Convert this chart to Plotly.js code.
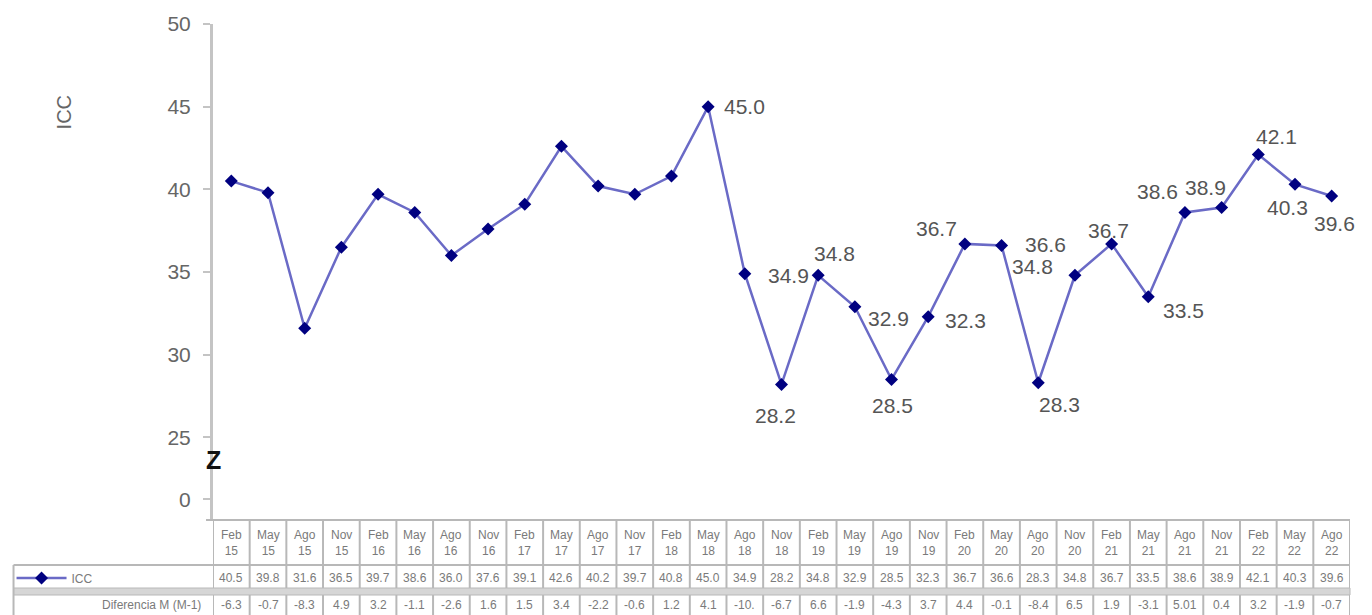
<!DOCTYPE html>
<html><head><meta charset="utf-8">
<script src="https://cdn.plot.ly/plotly-3.0.1.min.js"></script>
<style>html,body{margin:0;padding:0;background:#fff;}#chart{width:1372px;height:615px;}</style>
</head><body><div id="chart"></div>
<script>
// ---- data ----
const months = ['Feb','May','Ago','Nov','Feb','May','Ago','Nov','Feb','May','Ago','Nov','Feb','May','Ago','Nov',
                'Feb','May','Ago','Nov','Feb','May','Ago','Nov','Feb','May','Ago','Nov','Feb','May','Ago'];
const years  = ['15','15','15','15','16','16','16','16','17','17','17','17','18','18','18','18',
                '19','19','19','19','20','20','20','20','21','21','21','21','22','22','22'];
const iccValues = [40.5,39.8,31.6,36.5,39.7,38.6,36.0,37.6,39.1,42.6,40.2,39.7,40.8,45.0,34.9,28.2,
                   34.8,32.9,28.5,32.3,36.7,36.6,28.3,34.8,36.7,33.5,38.6,38.9,42.1,40.3,39.6];
const diffLabels = ['-6.3','-0.7','-8.3','4.9','3.2','-1.1','-2.6','1.6','1.5','3.4','-2.2','-0.6','1.2','4.1','-10.','-6.7',
                    '6.6','-1.9','-4.3','3.7','4.4','-0.1','-8.4','6.5','1.9','-3.1','5.01','0.4','3.2','-1.9','-0.7'];
const yTickVals = [21.25,25,30,35,40,45,50];
const yTickText = ['0','25','30','35','40','45','50'];
const seriesName = 'ICC';
const diffRowName = 'Diferencia M (M-1)';

// ---- style config (label offsets in px, null = no label) ----
const labelShift = [null,null,null,null,null,null,null,null,null,null,null,null,null,
  [36,0],[44,-2],[-6,-31],[16,22],[34,-12],[1,-26],[37,-4],[-28,15],[44,1],[21,-22],[-42,9],
  [-3,13],[35,-14],[-27,21],[-16,20],[18,18],[-7,-23],[3,-28]];

const cats = months.map((m,i)=>m+' '+years[i]);

// pixel helpers (plot area: x 210..1350, y 24..520)
const L=210, R=1350, T=24, B=520;
const px = x => (x-L)/(R-L);
const py = y => (B-y)/(B-T);

const gridColor = '#b8b8b8';
const textGray = '#7a7a7a';
const FONT = 'Liberation Sans, Arial, sans-serif';
const shapes = [];
// column lines
for (let i=0;i<=cats.length;i++){
  shapes.push({type:'line', xref:'x', yref:'paper', x0:i-0.5, x1:i-0.5, y0:py(520), y1:py(615),
    line:{color:gridColor, width:2}});
}
// horizontal lines
shapes.push({type:'line', xref:'paper', yref:'paper', x0:px(203), x1:px(1350), y0:py(520), y1:py(520), line:{color:gridColor,width:2}});
shapes.push({type:'line', xref:'paper', yref:'paper', x0:px(10), x1:px(1350), y0:py(565), y1:py(565), line:{color:gridColor,width:2}});
shapes.push({type:'rect', xref:'paper', yref:'paper', x0:px(10), x1:px(1350), y0:py(588), y1:py(595), fillcolor:'#d6d6d6', line:{color:gridColor,width:1}});
shapes.push({type:'line', xref:'paper', yref:'paper', x0:px(10), x1:px(10), y0:py(565), y1:py(615), line:{color:gridColor,width:2}});

const annotations = [];
// axis title
annotations.push({xref:'paper', yref:'paper', x:px(61), y:py(112), xanchor:'center', yanchor:'middle',
  text:'ICC', showarrow:false, textangle:-90, font:{family:FONT, size:20, color:'#666'}});
// axis break mark
annotations.push({xref:'paper', yref:'y', x:px(211), y:23.6, xanchor:'center', yanchor:'middle',
  text:'<b>Z</b>', showarrow:false, font:{family:FONT, size:25, color:'#111'}});
// data labels
iccValues.forEach((v,i)=>{
  const s = labelShift[i];
  if (!s) return;
  annotations.push({xref:'x', yref:'y', x:cats[i], y:v, xanchor:'center', yanchor:'middle',
    text:v.toFixed(1), showarrow:false, xshift:s[0], yshift:s[1],
    font:{family:FONT, size:21, color:'#555'}});
});
// table text
const cellFont = {family:FONT, size:12, color:textGray};
cats.forEach((c,i)=>{
  annotations.push({xref:'x', yref:'paper', x:c, y:py(543), xanchor:'center', yanchor:'middle',
    text:months[i]+'<br>'+years[i], showarrow:false, font:cellFont});
  annotations.push({xref:'x', yref:'paper', x:c, y:py(578), xanchor:'center', yanchor:'middle',
    text:iccValues[i].toFixed(1), showarrow:false, font:cellFont});
  annotations.push({xref:'x', yref:'paper', x:c, y:py(605), xanchor:'center', yanchor:'middle',
    text:diffLabels[i], showarrow:false, font:cellFont});
});
annotations.push({xref:'paper', yref:'paper', x:px(200), y:py(605), xanchor:'right', yanchor:'middle',
  text:diffRowName, showarrow:false, font:cellFont});

const trace = {
  type:'scatter', mode:'lines+markers', name:seriesName, x:cats, y:iccValues,
  line:{color:'#6a6ac6', width:2.5},
  marker:{symbol:'diamond', size:10, color:'#000080'},
  cliponaxis:false
};

const layout = {
  width:1372, height:615,
  margin:{l:L, r:1372-R, t:T, b:615-B, pad:0},
  paper_bgcolor:'#fff', plot_bgcolor:'#fff',
  showlegend:true,
  legend:{x:px(8), y:py(578), xanchor:'left', yanchor:'middle', bgcolor:'rgba(0,0,0,0)',
    font:{family:FONT, size:12, color:textGray}, itemwidth:50},
  xaxis:{type:'category', categoryorder:'array', categoryarray:cats, range:[-0.5, cats.length-0.5],
    showticklabels:false, showgrid:false, zeroline:false, showline:false, ticks:'', fixedrange:true},
  yaxis:{range:[20,50], tickvals:yTickVals, ticktext:yTickText, showgrid:false, zeroline:false,
    showline:true, linecolor:'#c4c4c4', linewidth:3, ticks:'outside', ticklen:7, tickwidth:2, tickcolor:'#c4c4c4',
    ticklabelstandoff:8,
    tickfont:{family:FONT, size:21, color:'#666'}, fixedrange:true},
  shapes:shapes, annotations:annotations
};
Plotly.newPlot('chart',[trace],layout,{displayModeBar:false, staticPlot:true});
</script></body></html>
